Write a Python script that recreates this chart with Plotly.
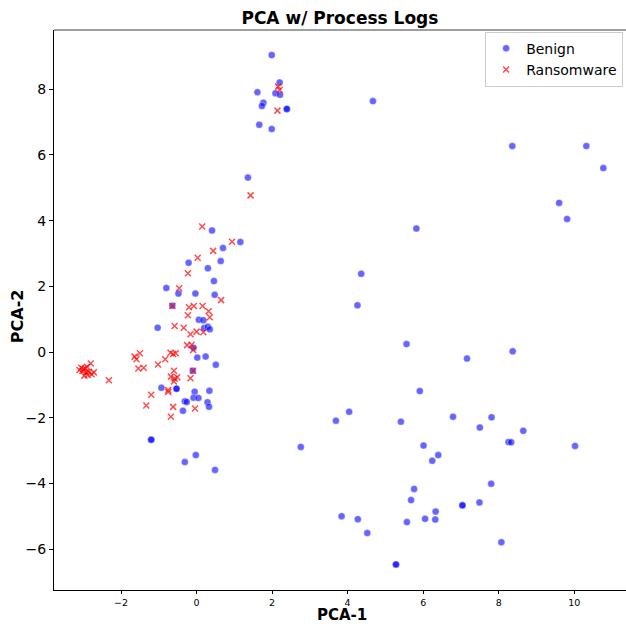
import plotly.graph_objects as go

# Benign points (PCA-1, PCA-2)
benign_x = [1.99, 2.20, 1.61, 2.09, 2.21, 1.77, 1.73, 2.39, 2.39, 4.67, 1.66, 1.99, 1.36,
            0.41, 1.16, 0.70, 0.64, -0.21, 0.30, 0.46, -0.80, -0.48, -0.03, 0.48, -0.64,
            0.06, 0.18, -1.03, 0.20, 0.30, 0.35, -0.08, 0.02, 0.24, 0.51, -0.10, -0.93,
            -0.53, -0.53, -0.05, 0.34, -0.08, 0.05, -0.31, -0.26, -0.36, 0.29, 0.33,
            -1.20, -1.20, -0.31, -0.02, 0.49,
            9.60, 9.81, 5.82, 4.36, 4.26, 5.56, 8.37, 7.16, 5.91, 4.04, 3.69, 5.41, 6.79,
            7.81, 7.50, 8.65, 8.26, 8.33, 10.02, 2.76, 6.01, 6.40, 6.24, 7.80, 5.76, 5.68,
            7.49, 7.04, 7.04, 6.33, 3.84, 4.27, 6.05, 6.32, 5.57, 4.52, 8.07, 5.28, 5.28,
            10.32, 10.77, 8.36]
benign_y = [9.04, 8.21, 7.91, 7.88, 7.83, 7.59, 7.49, 7.40, 7.40, 7.64, 6.92, 6.79, 5.31,
            3.70, 3.35, 3.17, 2.77, 2.72, 2.55, 2.16, 1.95, 1.78, 1.78, 1.74, 1.41,
            0.98, 0.97, 0.74, 0.73, 0.77, 0.69, 0.13, -0.17, -0.14, -0.39, -0.57, -1.09,
            -1.12, -1.12, -1.21, -1.18, -1.39, -1.40, -1.50, -1.52, -1.79, -1.53, -1.67,
            -2.67, -2.67, -3.35, -3.14, -3.59,
            4.54, 4.05, 3.76, 2.38, 1.42, 0.24, 0.02, -0.20, -1.19, -1.82, -2.09, -2.12, -1.97,
            -1.99, -2.30, -2.40, -2.74, -2.75, -2.86, -2.89, -2.85, -3.14, -3.31, -4.01, -4.17, -4.51,
            -4.58, -4.67, -4.67, -4.86, -5.00, -5.09, -5.08, -5.10, -5.18, -5.51, -5.79, -6.47, -6.47,
            6.27, 5.60, 6.27]

# Ransomware points
ransom_x = [2.16, 2.20, 2.14, 1.43,
            0.15, 0.94, 0.44, 0.03, -0.23, -0.46, 0.65, -0.64, -0.20, -0.07, 0.16, 0.32,
            -0.23, 0.35, -0.58, -0.34, 0.00, -0.16, 0.18, -0.25, -0.13, -0.09, -1.50,
            -1.64, -1.59, -1.54, -1.40, -1.02, -0.83, -0.69, -0.62, -0.55, -0.60, -0.68,
            -0.58, -0.51, -0.60, -0.16, -0.09, -0.75, -0.75, -1.20, -1.33, -0.62, -0.04,
            -0.68, -2.32,
            -3.05, -3.10, -3.00, -2.95, -2.92, -2.88, -2.85, -2.78, -2.72, -2.80, -2.97,
            -3.02, -2.90]
ransom_y = [8.08, 7.98, 7.35, 4.77,
            3.82, 3.36, 3.08, 2.87, 2.40, 1.94, 1.58, 1.40, 1.36, 1.40, 1.40, 1.24,
            1.12, 1.06, 0.79, 0.74, 0.62, 0.54, 0.60, 0.21, 0.22, 0.06, -0.04,
            -0.14, -0.22, -0.50, -0.48, -0.38, -0.22, -0.02, -0.06, -0.04, -0.57, -0.75,
            -0.81, -0.77, -0.90, -0.80, -0.57, -1.16, -1.22, -1.30, -1.63, -1.67, -1.72,
            -1.97, -0.86,
            -0.48, -0.55, -0.52, -0.50, -0.62, -0.70, -0.60, -0.68, -0.62, -0.35, -0.72,
            -0.58, -0.45]

x_ticks = [-2, 0, 2, 4, 6, 8, 10]
y_ticks = [-6, -4, -2, 0, 2, 4, 6, 8]

FONT = "DejaVu Sans"

fig = go.Figure()
fig.add_trace(go.Scatter(
    x=benign_x, y=benign_y, mode="markers", name="Benign",
    marker=dict(symbol="circle", size=7, color="rgba(0,0,255,0.6)",
                line=dict(width=0.6, color="rgba(255,255,255,0.6)")),
))
fig.add_trace(go.Scatter(
    x=ransom_x, y=ransom_y, mode="markers", name="Ransomware",
    marker=dict(symbol="x-thin-open", size=6, color="rgba(255,0,0,0.7)",
                line=dict(width=1.5, color="rgba(255,0,0,0.7)")),
))

fig.update_layout(
    width=626, height=624,
    margin=dict(l=54, r=0, t=30, b=34),
    paper_bgcolor="white", plot_bgcolor="white",
    font=dict(family=FONT, color="black"),
    title=dict(text="<b>PCA w/ Process Logs</b>", x=0.543, xanchor="center",
               y=0.971, yanchor="middle", font=dict(size=17, family=FONT)),
    showlegend=True,
    legend=dict(x=0.995, xanchor="right", y=0.997, yanchor="top",
                bordercolor="#cccccc", borderwidth=1, bgcolor="rgba(255,255,255,0.8)",
                font=dict(size=14, family=FONT), itemsizing="trace",
                tracegroupgap=0),
)
fig.update_xaxes(
    range=[-3.774, 11.37], tickvals=x_ticks, ticktext=[("−" + str(-v)) if v < 0 else str(v) for v in x_ticks],
    showgrid=False, zeroline=False, showline=True, linecolor="black", linewidth=1.3,
    ticks="outside", ticklen=3, tickcolor="black", tickfont=dict(size=9.5, family=FONT),
    mirror=False,
)
fig.update_yaxes(
    range=[-7.247, 9.805], tickvals=y_ticks, ticktext=[("−" + str(-v)) if v < 0 else str(v) for v in y_ticks],
    showgrid=False, zeroline=False, showline=True, linecolor="black", linewidth=1.3,
    ticks="outside", ticklen=4, tickcolor="black", tickfont=dict(size=14, family=FONT),
)
# top border (gray)
fig.add_shape(type="line", xref="paper", yref="paper", x0=0, x1=1, y0=1, y1=1,
              line=dict(color="#808080", width=1.3))
# axis titles
fig.add_annotation(text="<b>PCA-1</b>", xref="paper", yref="paper", x=0.503, y=0,
                   yshift=-25, yanchor="middle", showarrow=False, borderpad=0,
                   font=dict(size=15, family=FONT))
fig.add_annotation(text="<b>PCA-2</b>", xref="paper", yref="paper", x=0, y=0.489,
                   xshift=-37, xanchor="center", textangle=-90, showarrow=False,
                   font=dict(size=16, family=FONT))

fig.write_html("out.html")
